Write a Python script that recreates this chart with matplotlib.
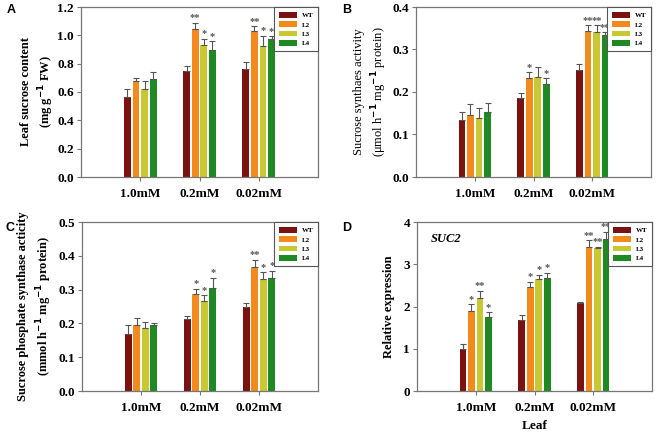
import matplotlib
matplotlib.use("Agg")
import matplotlib.pyplot as plt
import numpy as np
from matplotlib.patches import Patch

categories = ["1.0mM", "0.2mM", "0.02mM"]
lines = ["WT", "L2", "L3", "L4"]
colors = ["#7a1212", "#f28a1e", "#c9c832", "#1f8a24"]

# Panel A: leaf sucrose content
a_vals = {"WT": [0.565, 0.75, 0.762], "L2": [0.68, 1.047, 1.033],
          "L3": [0.62, 0.93, 0.922], "L4": [0.694, 0.896, 0.976]}
a_err = {"WT": [0.055, 0.03, 0.048], "L2": [0.022, 0.043, 0.03],
         "L3": [0.06, 0.046, 0.076], "L4": [0.046, 0.062, 0.016]}
a_sig = {"WT": ["", "", ""], "L2": ["", "**", "**"], "L3": ["", "*", "*"], "L4": ["", "*", "*"]}

# Panel B: sucrose synthase activity
b_vals = {"WT": [0.135, 0.187, 0.251], "L2": [0.146, 0.232, 0.344],
          "L3": [0.138, 0.235, 0.342], "L4": [0.154, 0.219, 0.333]}
b_err = {"WT": [0.017, 0.010, 0.016], "L2": [0.025, 0.014, 0.013],
         "L3": [0.024, 0.023, 0.015], "L4": [0.020, 0.013, 0.008]}
b_sig = {"WT": ["", "", ""], "L2": ["", "*", "**"], "L3": ["", "", "**"], "L4": ["", "*", "**"]}

# Panel C: sucrose phosphate synthase activity
c_vals = {"WT": [0.168, 0.212, 0.25], "L2": [0.195, 0.287, 0.367],
          "L3": [0.187, 0.265, 0.331], "L4": [0.196, 0.306, 0.334]}
c_err = {"WT": [0.026, 0.009, 0.009], "L2": [0.022, 0.015, 0.021],
         "L3": [0.017, 0.018, 0.021], "L4": [0.006, 0.029, 0.021]}
c_sig = {"WT": ["", "", ""], "L2": ["", "*", "**"], "L3": ["", "*", "*"], "L4": ["", "*", "*"]}

# Panel D: SUC2 relative expression
d_vals = {"WT": [0.99, 1.68, 2.08], "L2": [1.89, 2.46, 3.41],
          "L3": [2.2, 2.65, 3.39], "L4": [1.75, 2.68, 3.6]}
d_err = {"WT": [0.13, 0.12, 0.02], "L2": [0.16, 0.13, 0.16],
         "L3": [0.17, 0.10, 0.03], "L4": [0.11, 0.12, 0.17]}
d_sig = {"WT": ["", "", ""], "L2": ["*", "*", "**"], "L3": ["**", "*", "**"], "L4": ["*", "*", "**"]}

plt.rcParams["font.family"] = ["Liberation Serif", "DejaVu Serif"]

fig = plt.figure(figsize=(6.6, 4.36), dpi=100)
W, H = 660, 436

def axes_px(l, r, t, b):
    return fig.add_axes([l / W, 1 - b / H, (r - l) / W, (b - t) / H])

x = np.arange(1, len(categories) + 1)
offsets = [-0.2175, -0.0725, 0.0725, 0.2175]
bw = 0.115
frame_col = "#777777"

def draw(ax, vals, errs, sigs, ymax, step, fmt, ylabel, label_bold=True, xlabel=None):
    for i, ln in enumerate(lines):
        v = np.array(vals[ln]); e = np.array(errs[ln])
        ax.bar(x + offsets[i], v, bw, color=colors[i], zorder=2)
        ax.errorbar(x + offsets[i], v, yerr=[np.zeros_like(e), e], fmt="none",
                    ecolor="#555555", elinewidth=0.8, capsize=2, capthick=0.8, zorder=3)
        for j, s in enumerate(sigs[ln]):
            if s:
                ax.text(x[j] + offsets[i], v[j] + e[j] + ymax * 0.003, s,
                        ha="center", va="bottom", fontsize=7.5, fontweight="bold",
                        color="#555555", zorder=1)
    ax.set_xlim(0, 4)
    ax.set_ylim(0, ymax)
    ticks = np.arange(0, ymax + step / 2, step)
    ax.set_yticks(ticks)
    ax.set_yticklabels([fmt.format(t) for t in ticks], fontsize=9.5, fontweight="bold")
    ax.set_xticks(x)
    ax.set_xticklabels(categories, fontsize=9.5, fontweight="bold")
    ax.tick_params(axis="both", length=3, width=0.8, color=frame_col)
    ax.tick_params(axis="y", pad=2)
    ax.tick_params(axis="x", pad=5)
    for sp in ax.spines.values():
        sp.set_color(frame_col)
        sp.set_linewidth(0.9)
    ax.set_ylabel(ylabel, fontsize=9, fontweight="bold" if label_bold else "normal",
                  linespacing=1.35)
    if xlabel:
        ax.set_xlabel(xlabel, fontsize=9.5, fontweight="bold", labelpad=4)
    handles = [Patch(facecolor=c, edgecolor="none") for c in colors]
    leg = ax.legend(handles, lines, loc="upper right", borderaxespad=0,
                    prop={"size": 5, "weight": "bold"}, handlelength=2.7,
                    handleheight=0.9, labelspacing=0.45, borderpad=0.7,
                    handletextpad=0.6, fancybox=False, framealpha=1)
    leg.get_frame().set_edgecolor("#555555")
    leg.get_frame().set_linewidth(0.8)
    leg.set_zorder(5)

axA = axes_px(81, 318, 7, 177)
draw(axA, a_vals, a_err, a_sig, 1.2, 0.2, "{:.1f}",
     "Leaf sucrose content\n(mg g$^{\\mathbf{-1}}$ FW)")
axA.yaxis.set_label_coords(-0.105, 0.5)

axB = axes_px(416, 651, 7, 177)
draw(axB, b_vals, b_err, b_sig, 0.4, 0.1, "{:.1f}",
     "Sucrose synthaes activity\n(μmol h$^{\\mathbf{-1}}$ mg$^{\\mathbf{-1}}$ protein)", label_bold=False)
axB.yaxis.set_label_coords(-0.115, 0.5)

axC = axes_px(82, 318, 222, 391)
draw(axC, c_vals, c_err, c_sig, 0.5, 0.1, "{:.1f}",
     "Sucrose phosphate synthase acticity\n(mmol h$^{\\mathbf{-1}}$ mg$^{\\mathbf{-1}}$ protein)")
axC.yaxis.set_label_coords(-0.12, 0.5)

axD = axes_px(417, 652, 222, 391)
draw(axD, d_vals, d_err, d_sig, 4, 1, "{:.0f}", "Relative expression", xlabel="Leaf")
axD.yaxis.set_label_coords(-0.095, 0.5)
axD.text(0.06, 0.9, "SUC2", transform=axD.transAxes, fontsize=9,
         fontweight="bold", fontstyle="italic", va="center")

for lab, px, py in [("A", 11, 10), ("B", 347, 10), ("C", 10, 228), ("D", 347, 228)]:
    fig.text(px / W, 1 - py / H, lab, fontsize=9, fontweight="bold",
             family="Liberation Sans", ha="center", va="center")

fig.savefig("out.png", dpi=100)
